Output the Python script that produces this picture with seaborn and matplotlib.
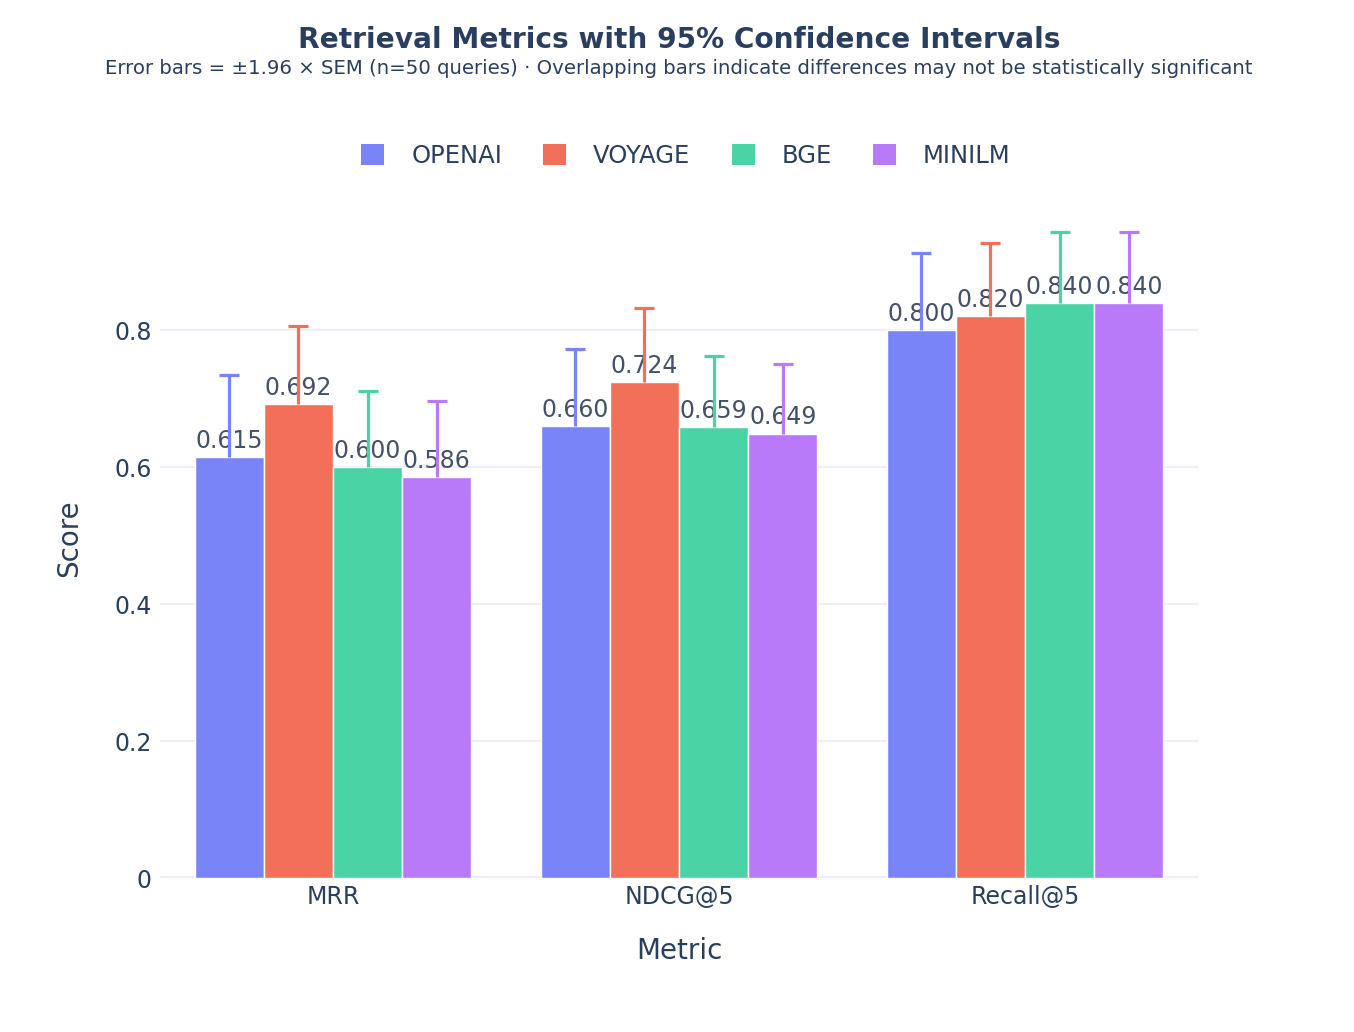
import matplotlib
matplotlib.use("Agg")
import matplotlib.pyplot as plt
import seaborn as sns
import pandas as pd
import numpy as np
from matplotlib.patches import Patch

metrics = ["MRR", "NDCG@5", "Recall@5"]
models = ["OPENAI", "VOYAGE", "BGE", "MINILM"]
openai_vals = [0.615, 0.660, 0.800]
voyage_vals = [0.692, 0.724, 0.820]
bge_vals = [0.600, 0.659, 0.840]
minilm_vals = [0.586, 0.649, 0.840]
openai_err = [0.119, 0.112, 0.112]
voyage_err = [0.114, 0.108, 0.108]
bge_err = [0.111, 0.103, 0.103]
minilm_err = [0.110, 0.101, 0.103]
yticks = [0, 0.2, 0.4, 0.6, 0.8]
ytick_labels = ["0", "0.2", "0.4", "0.6", "0.8"]

values = {"OPENAI": openai_vals, "VOYAGE": voyage_vals, "BGE": bge_vals, "MINILM": minilm_vals}
errors = {"OPENAI": openai_err, "VOYAGE": voyage_err, "BGE": bge_err, "MINILM": minilm_err}
colors = ["#7A84F9", "#F2705A", "#4AD3A5", "#B87AF9"]
palette = dict(zip(models, colors))

rows = []
for m in models:
    for k, met in enumerate(metrics):
        rows.append({"Metric": met, "Model": m, "Score": values[m][k]})
df = pd.DataFrame(rows)

sns.set_theme(style="white")
plt.rcParams["font.family"] = ["DejaVu Sans"]
text_c = "#2a3f5f"

fig = plt.figure(figsize=(13.54, 10.32), dpi=100)
ax = fig.add_axes([160/1354, 1-878/1032, (1198-160)/1354, (878-198)/1032])

sns.barplot(data=df, x="Metric", y="Score", hue="Model", order=metrics, hue_order=models,
            palette=palette, saturation=1, width=0.8, edgecolor="white", linewidth=1.0,
            ax=ax, legend=False, zorder=2)

for i, m in enumerate(models):
    cont = ax.containers[i]
    xs = [b.get_x() + b.get_width()/2 for b in cont]
    hs = [b.get_height() for b in cont]
    eb = ax.errorbar(xs, hs, yerr=[np.zeros(len(hs)), errors[m]], fmt="none", ecolor=colors[i],
                     elinewidth=2.3, capsize=7, capthick=2.3, zorder=5)
    caps = eb[1]
    if len(caps) > 0:
        caps[0].set_visible(False)
    for x, h in zip(xs, hs):
        ax.annotate(f"{h:.3f}", (x, h), xytext=(0, 3), textcoords="offset points",
                    ha="center", va="bottom", fontsize=17, color="#44516a", zorder=4)

ax.set_xlim(-0.5, 2.5)
ax.set_ylim(0, 0.993)
ax.set_yticks(yticks)
ax.set_yticklabels(ytick_labels)
ax.tick_params(axis="both", labelsize=17, colors=text_c, length=0)
ax.tick_params(axis="y", pad=6)
ax.tick_params(axis="x", pad=5)
for s in ax.spines.values():
    s.set_visible(False)
ax.grid(axis="y", color="#EBF0F8", linewidth=1.5, zorder=0)
ax.set_axisbelow(True)
ax.axhline(0, color="#EBF0F8", linewidth=3, zorder=1)

ax.set_xlabel("Metric", fontsize=20, color=text_c, labelpad=20)
ax.set_ylabel("Score", fontsize=20, color=text_c, labelpad=22)

handles = [Patch(facecolor=c, edgecolor="none") for c in colors]
fig.legend(handles, models, loc="center", bbox_to_anchor=(686/1354, 1-156/1032), ncol=4,
           frameon=False, fontsize=17.5, handlelength=0.95, handleheight=0.95,
           handletextpad=1.1, columnspacing=1.7, labelcolor=text_c)

fig.text(679/1354, 1-40/1032, "Retrieval Metrics with 95% Confidence Intervals", ha="center", va="center",
         fontsize=20.2, fontweight="bold", color=text_c)
fig.text(679/1354, 1-68/1032,
         "Error bars = ±1.96 × SEM (n=50 queries) · Overlapping bars indicate differences may not be statistically significant",
         ha="center", va="center", fontsize=14.2, color=text_c)

fig.savefig("out.png", dpi=100, facecolor="white")
